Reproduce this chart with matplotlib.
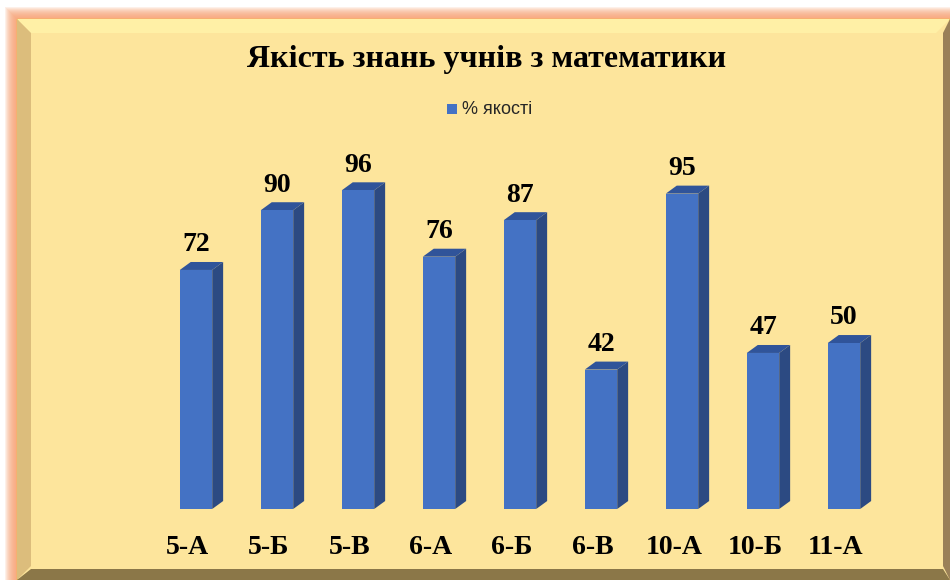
# Якість знань учнів з математики -- 3D-style column chart
import matplotlib
matplotlib.use("Agg")
import matplotlib.pyplot as plt
from matplotlib.patches import Rectangle, Polygon

classes = ["5-А", "5-Б", "5-В", "6-А", "6-Б", "6-В", "10-А", "10-Б", "11-А"]
quality = [72, 90, 96, 76, 87, 42, 95, 47, 50]
series_name = "% якості"
title = "Якість знань учнів з математики"

W, H = 950, 580
fig = plt.figure(figsize=(W / 100, H / 100), dpi=100)
fig.patch.set_facecolor("white")


def fx(x):
    return x / W


def fy(y):
    return 1 - y / H


def frect(x0, y0, x1, y1, **kw):
    fig.patches.append(Rectangle((fx(x0), fy(y1)), fx(x1) - fx(x0), fy(y0) - fy(y1),
                                 transform=fig.transFigure, zorder=-5, **kw))


def fpoly(pts, **kw):
    fig.patches.append(Polygon([(fx(x), fy(y)) for x, y in pts],
                               transform=fig.transFigure, zorder=-5, **kw))


# orange glow around the frame
for i in range(12, 0, -1):
    frect(17 - i, 19 - i, 950 + i, 580 + i, facecolor="#f8a070", edgecolor="none",
          alpha=0.15)

# frame body and bevels
frect(17, 19, 950, 580, facecolor="#fde59c", edgecolor="#f5c330", linewidth=1)
fpoly([(17, 19), (950, 19), (936, 33), (31, 33)], facecolor="#fff0a6", edgecolor="none")
fpoly([(17, 19), (31, 33), (31, 566), (17, 580)], facecolor="#dcbd7c", edgecolor="none")
fpoly([(950, 19), (943, 33), (943, 566), (950, 580)], facecolor="#9a8058", edgecolor="none")
fpoly([(17, 580), (31, 569), (943, 569), (950, 580)], facecolor="#8b7748", edgecolor="none")

# plotting axes: 81 px per class, 3.32 px per percent
ax = fig.add_axes([fx(115), fy(509), fx(925) - fx(115), fy(177) - fy(509)])
ax.set_zorder(5)
ax.set_xlim(-1, 9)
ax.set_ylim(0, 100)
ax.patch.set_alpha(0)
for s in ax.spines.values():
    s.set_visible(False)
ax.set_xticks([])
ax.set_yticks([])

xs = list(range(len(classes)))
bw = 0.4
dx, dy = 0.135, 2.4
front, side, top = "#4472c4", "#2c4a82", "#30549a"

ax.bar(xs, quality, width=bw, color=front, zorder=2)
for x, v, name in zip(xs, quality, classes):
    r = x + bw / 2
    l = x - bw / 2
    ax.add_patch(Polygon([(r, 0), (r + dx, dy), (r + dx, v + dy), (r, v)],
                         facecolor=side, edgecolor="none", zorder=1))
    ax.add_patch(Polygon([(l, v), (r, v), (r + dx, v + dy), (l + dx, v + dy)],
                         facecolor=top, edgecolor="none", zorder=1))
    ax.annotate(str(v), (x, v), xytext=(0, 18), textcoords="offset points",
                ha="center", va="center", fontsize=20, fontweight="bold",
                family="Liberation Serif", color="black")
    # category label sits a little left of the column, under the 3D floor
    ax.annotate(name, (x - 0.1, 0), xytext=(0, -28), textcoords="offset points",
                ha="center", va="center", fontsize=20, fontweight="bold",
                family="Liberation Serif", color="black", annotation_clip=False)

fig.text(fx(487), fy(59), title, ha="center", va="center", fontsize=23,
         fontweight="bold", family="Liberation Serif")

# legend
frect(447, 104, 457, 114, facecolor=front, edgecolor="none")
fig.text(fx(462), fy(110), series_name, ha="left", va="center", fontsize=13,
         family="Liberation Sans", color="#262626")

fig.savefig("out.png", dpi=100)
